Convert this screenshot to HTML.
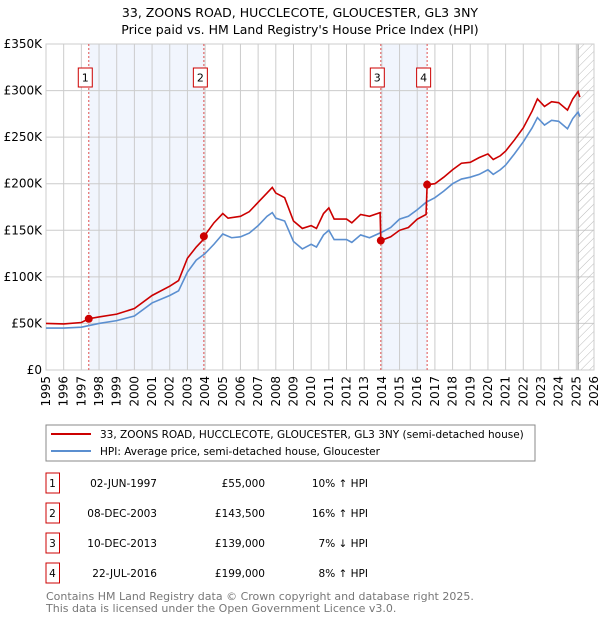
<!DOCTYPE html>
<html><head><meta charset="utf-8"><style>
body{margin:0;background:#fff;font-family:"Liberation Sans","DejaVu Sans",sans-serif;}
svg text{font-family:"DejaVu Sans","Liberation Sans",sans-serif;}
</style></head><body>
<svg id="c" width="600" height="620" viewBox="0 0 600 620" xmlns="http://www.w3.org/2000/svg">
<defs><pattern id="hatch" width="6" height="6" patternUnits="userSpaceOnUse" patternTransform="rotate(45)"><line x1="0" y1="0" x2="0" y2="6" stroke="#bbb" stroke-width="1"/></pattern></defs>
<text x="300" y="17" text-anchor="middle" font-size="12.5" fill="#000">33, ZOONS ROAD, HUCCLECOTE, GLOUCESTER, GL3 3NY</text>
<text x="300" y="34" text-anchor="middle" font-size="12.5" fill="#000">Price paid vs. HM Land Registry's House Price Index (HPI)</text>
<g id="plot"></g>
<g id="legend">
<rect x="46" y="425" width="489" height="36" fill="#fff" stroke="#888"/>
<line x1="51" y1="434" x2="91" y2="434" stroke="#cc0000" stroke-width="2"/>
<text x="100" y="438" font-size="10.5">33, ZOONS ROAD, HUCCLECOTE, GLOUCESTER, GL3 3NY (semi-detached house)</text>
<line x1="51" y1="451" x2="91" y2="451" stroke="#5b8fd0" stroke-width="2"/>
<text x="100" y="455" font-size="10.5">HPI: Average price, semi-detached house, Gloucester</text>
</g>
<g id="table" font-size="10.5"></g>
<text x="46" y="600" font-size="11" fill="#777">Contains HM Land Registry data © Crown copyright and database right 2025.</text>
<text x="46" y="612" font-size="11" fill="#777">This data is licensed under the Open Government Licence v3.0.</text>
</svg>
<script>
const yearTicks=[1995,1996,1997,1998,1999,2000,2001,2002,2003,2004,2005,2006,2007,2008,2009,2010,2011,2012,2013,2014,2015,2016,2017,2018,2019,2020,2021,2022,2023,2024,2025,2026];
const valueTicks=[0,50,100,150,200,250,300,350];
const valueTickLabels=["£0","£50K","£100K","£150K","£200K","£250K","£300K","£350K"];
const hpiYears=[1995,1996,1997,1997.5,1998,1999,2000,2001,2002,2002.5,2003,2003.5,2004,2004.5,2005,2005.5,2006,2006.5,2007,2007.5,2007.8,2008,2008.5,2009,2009.5,2010,2010.3,2010.7,2011,2011.3,2012,2012.3,2012.8,2013.3,2014,2014.5,2015,2015.5,2016,2016.5,2017,2017.5,2018,2018.5,2019,2019.5,2020,2020.3,2020.7,2021,2021.5,2022,2022.5,2022.8,2023.2,2023.6,2024,2024.5,2024.8,2025.1,2025.2];
const hpiValues=[45,45,46,48,50,53,58,72,80,85,105,118,125,135,146,142,143,147,155,165,169,163,160,138,130,135,132,145,150,140,140,137,145,142,148,153,162,165,172,180,185,192,200,205,207,210,215,210,215,220,232,245,260,271,263,268,267,259,270,277,272];
const priceYears=[1995,1996,1997,1997.42,1998,1999,2000,2001,2002,2002.5,2003,2003.5,2003.9,2004,2004.5,2005,2005.3,2006,2006.5,2007,2007.5,2007.8,2008,2008.5,2009,2009.5,2010,2010.3,2010.7,2011,2011.3,2012,2012.3,2012.8,2013.3,2013.9,2013.94,2014.5,2015,2015.5,2016,2016.5,2016.56,2017,2017.5,2018,2018.5,2019,2019.5,2020,2020.3,2020.7,2021,2021.5,2022,2022.5,2022.8,2023.2,2023.6,2024,2024.5,2024.8,2025.1,2025.2];
const priceValues=[50,49.5,51,55,57,60,66,80,90,96,120,132,140,145,158,168,163,165,170,180,190,196,190,185,160,152,155,152,168,174,162,162,158,167,165,169,139,143,150,153,162,167,199,200,207,215,222,223,228,232,226,230,235,247,260,278,291,283,288,287,279,291,299,293];
const saleLabels=["1","2","3","4"];
const saleYears=[1997.42,2003.93,2013.94,2016.56];
const saleValues=[55,143.5,139,199];
const saleDates=["02-JUN-1997","08-DEC-2003","10-DEC-2013","22-JUL-2016"];
const salePrices=["£55,000","£143,500","£139,000","£199,000"];
const saleHpi=["10% ↑ HPI","16% ↑ HPI","7% ↓ HPI","8% ↑ HPI"];

const NS="http://www.w3.org/2000/svg";
const X0=46,X1=594,Y0=370,Y1=44;
const x=y=>X0+(y-1995)/(2026-1995)*(X1-X0);
const yv=v=>Y0-v/350*(Y0-Y1);
function mk(tag,attrs,parent){const e=document.createElementNS(NS,tag);for(const k in attrs)e.setAttribute(k,attrs[k]);parent.appendChild(e);return e;}
const g=document.getElementById('plot');
for(const [a,b] of [[0,1],[2,3]]){
 const r=mk('rect',{x:x(saleYears[a]),y:Y1,width:x(saleYears[b])-x(saleYears[a]),height:Y0-Y1,fill:'#eef3fd',opacity:0.8},g);
 
 
}
yearTicks.forEach(t=>{const l=mk('line',{x1:x(t),x2:x(t),y1:Y1,y2:Y0,stroke:'#ccc'},g);
 
 });
valueTicks.forEach((t,i)=>{const l=mk('line',{x1:X0,x2:X1,y1:yv(t),y2:yv(t),stroke:'#ccc'},g);
 
 
 const tx=mk('text',{x:X0-4,y:yv(t)+4,'text-anchor':'end','font-size':'12'},g);tx.textContent=valueTickLabels[i];
 
 });
const h=mk('rect',{x:x(2025.1),y:Y1,width:X1-x(2025.1),height:Y0-Y1,fill:'url(#hatch)',stroke:'#999'},g);


yearTicks.forEach(t=>{const tx=mk('text',{x:0,y:0,'text-anchor':'end','font-size':'12',transform:`translate(${x(t)+4},376) rotate(-90)`},g);tx.textContent=t;
 
 });
mk('rect',{x:X0,y:Y1,width:X1-X0,height:Y0-Y1,fill:'none',stroke:'#ccc'},g);
saleYears.forEach((s,i)=>{const l=mk('line',{x1:x(s),x2:x(s),y1:Y1,y2:Y0,stroke:'#e05050','stroke-dasharray':'2,2'},g);
 
 });
const hp=mk('polyline',{points:hpiYears.map((t,i)=>x(t)+','+yv(hpiValues[i])).join(' '),fill:'none',stroke:'#5b8fd0','stroke-width':1.6},g);


const pp=mk('polyline',{points:priceYears.map((t,i)=>x(t)+','+yv(priceValues[i])).join(' '),fill:'none',stroke:'#cc0000','stroke-width':1.6},g);


saleYears.forEach((s,i)=>{
 const c=mk('circle',{cx:x(s),cy:yv(saleValues[i]),r:4,fill:'#cc0000'},g);
 
 
 const b=mk('rect',{x:x(s)-10.5,y:68,width:14,height:19,fill:'#fff',stroke:'#cc0000'},g);
 
 
 const tx=mk('text',{x:x(s)-3.5,y:81.5,'text-anchor':'middle','font-size':'11'},g);tx.textContent=saleLabels[i];
 
 
});
const tb=document.getElementById('table');
saleLabels.forEach((lab,i)=>{
 const cy=483+i*30;
 const r=mk('rect',{x:46,y:cy-10,width:13.5,height:20,fill:'#fff',stroke:'#cc0000'},tb);
 
 
 const cols=[[52.5,'middle',lab,'table-row-number'],[157,'end',saleDates[i],'table-date'],[265,'end',salePrices[i],'table-price'],[368,'end',saleHpi[i],'table-hpi-change']];
 cols.forEach(c=>{const t=mk('text',{x:c[0],y:cy+4,'text-anchor':c[1]},tb);t.textContent=c[2];
  
  });
});
</script>
</body></html>
